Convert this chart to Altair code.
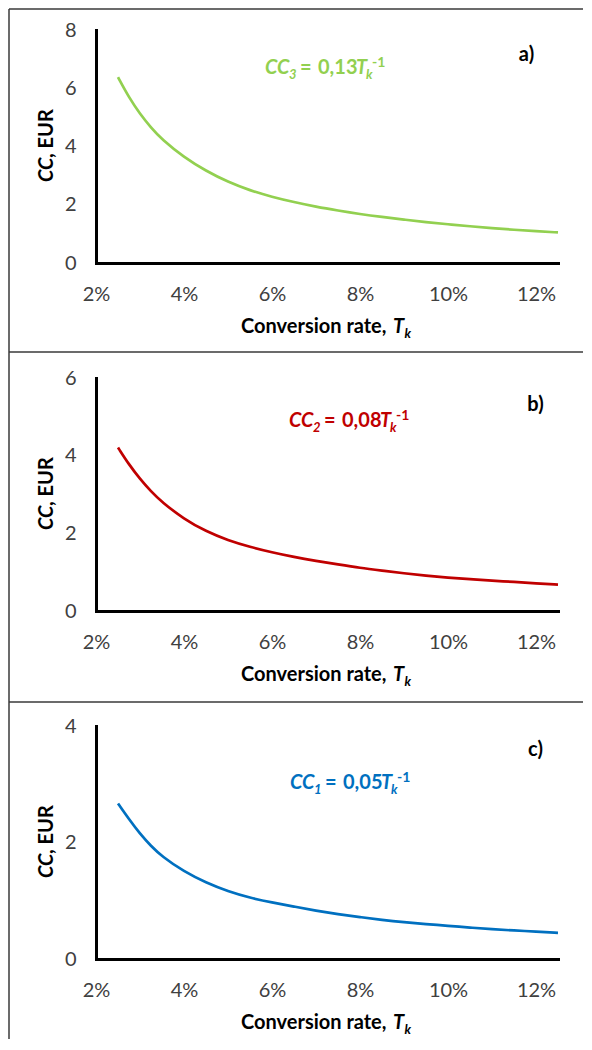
import altair as alt
import pandas as pd

# ---------------- data ----------------
T_PCT = [2.5, 2.75, 3.0, 3.25, 3.5, 4.0, 4.5, 5.0, 5.5, 6.0, 6.5, 7.0, 7.5,
         8.0, 8.5, 9.0, 9.5, 10.0, 10.5, 11.0, 11.5, 12.0, 12.5]
CC3 = [6.38, 5.68, 5.12, 4.65, 4.24, 3.63, 3.16, 2.78, 2.49, 2.27, 2.09, 1.93, 1.80,
       1.68, 1.58, 1.49, 1.40, 1.33, 1.26, 1.20, 1.14, 1.09, 1.05]
CC2 = [4.21, 3.77, 3.40, 3.08, 2.80, 2.37, 2.05, 1.82, 1.65, 1.51, 1.39, 1.29, 1.20,
       1.11, 1.04, 0.97, 0.91, 0.86, 0.82, 0.78, 0.75, 0.71, 0.68]
CC1 = [2.67, 2.40, 2.15, 1.94, 1.76, 1.50, 1.31, 1.16, 1.05, 0.97, 0.90, 0.83, 0.77,
       0.72, 0.67, 0.63, 0.60, 0.57, 0.54, 0.51, 0.49, 0.47, 0.45]

X_TICKS = [0.02, 0.04, 0.06, 0.08, 0.10, 0.12]
X_DOMAIN = [0.02, 0.125]
Y_MAX = [8, 6, 4]
Y_TICKS = [[0, 2, 4, 6, 8], [0, 2, 4, 6], [0, 2, 4]]
SERIES = [CC3, CC2, CC1]
EQ_SUB = ["3", "2", "1"]
EQ_COEF = ["0,13", "0,08", "0,05"]
PANEL_LABELS = ["a)", "b)", "c)"]
COLORS = ["#92D050", "#C00000", "#0070C0"]

# ---------------- layout / style ----------------
FONT = "Lato"
FS = 20
W, H = 462, 233
SPACING = 115
EQ_X0 = [169.0, 193.0, 194.0]      # equation start, relative to plot left
EQ_BASE = [44.0, 49.0, 62.5]       # equation baseline, relative to plot top
LAB_POS = [(430.5, 24.5), (439.5, 26.5), (439.5, 23.5)]
TOP_RULE = [-21, -26, -24]
LEFT_RULE_END = [322, 324, 313]
RIGHT_END = 487
BORDER = "#3a3a3a"

one = pd.DataFrame({"k": [0]})


def txt(text, x, y, size=FS, weight="bold", style="normal", color="black",
        angle=0, align="left", baseline="alphabetic"):
    return alt.Chart(one).mark_text(
        text=text, font=FONT, fontSize=size, fontWeight=weight, fontStyle=style,
        color=color, angle=angle, align=align, baseline=baseline,
    ).encode(x=alt.value(x), y=alt.value(y))


def rule(x, x2, y, y2):
    return alt.Chart(one).mark_rule(color=BORDER, strokeWidth=1.5).encode(
        x=alt.value(x), x2=alt.value(x2), y=alt.value(y), y2=alt.value(y2))


def panel(i):
    df = pd.DataFrame({"T": [t / 100 for t in T_PCT], "CC": SERIES[i]})
    col = COLORS[i]
    line = alt.Chart(df).mark_line(color=col, strokeWidth=2.7, interpolate="basis").encode(
        x=alt.X("T:Q", scale=alt.Scale(domain=X_DOMAIN, nice=False, zero=False),
                axis=alt.Axis(values=X_TICKS, format=".0%", title=None,
                              labelPadding=21, labelFlush=False)),
        y=alt.Y("CC:Q", scale=alt.Scale(domain=[0, Y_MAX[i]], nice=False),
                axis=alt.Axis(values=Y_TICKS[i], title=None, labelPadding=20)),
    )
    x0, yb = EQ_X0[i], EQ_BASE[i]
    eq = [
        txt("CC", x0, yb, style="italic", color=col),
        txt(EQ_SUB[i], x0 + 24, yb + 5, size=13, style="italic", color=col),
        txt("=", x0 + 35, yb, color=col),
        txt(EQ_COEF[i], x0 + 53, yb, color=col),
        txt("T", x0 + 91, yb, style="italic", color=col),
        txt("k", x0 + 101, yb + 5, size=13, style="italic", color=col),
        txt("-1", x0 + 107, yb - 7, size=14, color=col),
    ]
    lx, ly = LAB_POS[i]
    label = txt(PANEL_LABELS[i], lx, ly, align="center", baseline="middle")
    xtitle = [
        txt("Conversion rate,", 145, 302.5),
        txt("T", 297, 302.5, style="italic"),
        txt("k", 308.5, 307.5, size=13, style="italic"),
    ]
    ytitle = [
        txt("CC", -43, 152, style="italic", angle=270),
        txt(", EUR", -43, 128, angle=270),
    ]
    borders = [
        rule(-87, RIGHT_END, TOP_RULE[i], TOP_RULE[i]),
        rule(-87, -87, TOP_RULE[i], LEFT_RULE_END[i]),
    ]
    return alt.layer(line, *eq, label, *xtitle, *ytitle, *borders).properties(width=W, height=H)


chart = alt.vconcat(panel(0), panel(1), panel(2), spacing=SPACING, bounds="flush").properties(
    padding=0
).configure_view(stroke=None).configure_axis(
    domainColor="black", domainWidth=3, domainCap="square", ticks=False, tickSize=0,
    grid=False, labelFont=FONT, labelFontSize=FS, labelColor="#404040",
)

chart.save("out.html", embed_options={"renderer": "svg", "actions": False})
